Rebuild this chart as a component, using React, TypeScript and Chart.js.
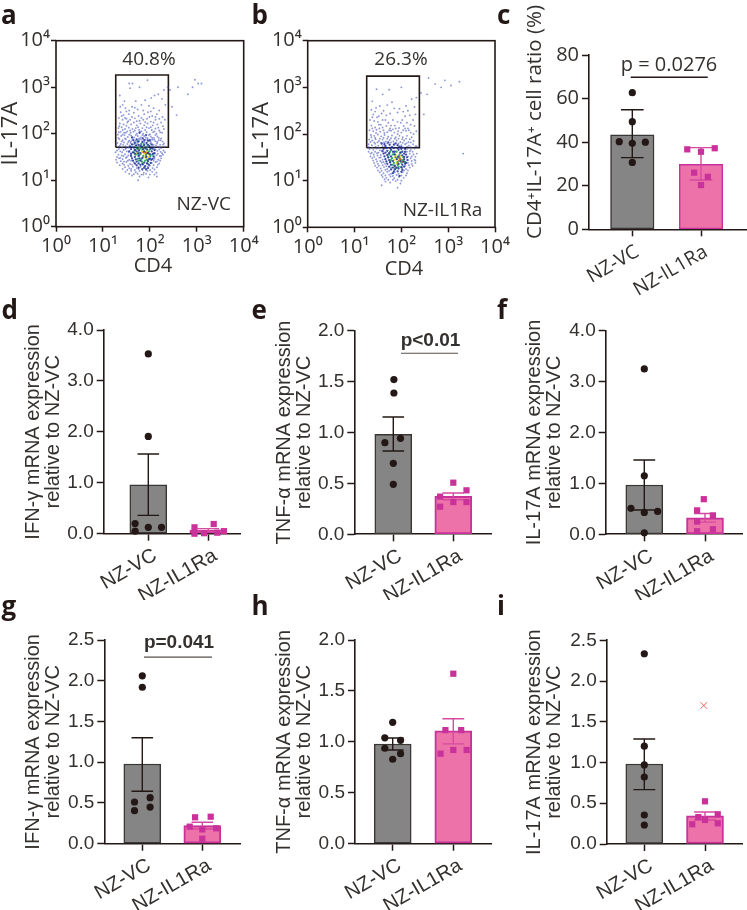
import React, { useEffect, useRef } from 'react';
import { Chart, registerables } from 'chart.js';
Chart.register(...registerables);

// ---------- flow cytometry readings (log10 CD4, log10 IL-17A) ----------
const aBlue = [[2.96,3.16],[3.1,3.08],[3.03,3.08],[2.91,3.0],[2.81,2.85],[2.6,3.0],[2.43,2.94],[2.47,2.58],[2.57,2.4],[1.56,3.08],[1.63,3.08],[1.78,3.0],[1.95,3.15],[1.58,2.98],[2.38,3.0],[2.3,2.94],[1.36,2.82],[2.18,2.85],[2.1,2.82],[2.03,2.77],[1.9,2.72],[1.7,2.7],[2.26,2.75],[1.42,2.62],[1.48,2.55],[1.5,2.48],[1.62,2.58],[1.74,2.52],[1.82,2.62],[1.98,2.6],[2.08,2.55],[2.2,2.5],[2.33,2.62],[1.38,2.46],[1.44,2.4],[1.55,2.42],[1.66,2.45],[1.76,2.38],[1.88,2.42],[1.96,2.46],[2.05,2.38],[2.15,2.42],[2.27,2.36],[1.34,2.34],[1.42,2.3],[1.5,2.32],[1.58,2.3],[1.68,2.33],[1.78,2.28],[1.86,2.3],[1.94,2.32],[2.02,2.26],[2.12,2.3],[2.24,2.24],[2.32,2.3],[1.36,2.22],[1.44,2.2],[1.52,2.24],[1.6,2.2],[1.66,2.24],[1.72,2.18],[1.8,2.22],[1.88,2.18],[1.95,2.22],[2.06,2.18],[2.16,2.2],[2.28,2.16],[1.33,2.12],[1.4,2.14],[1.47,2.1],[1.55,2.13],[1.63,2.1],[1.7,2.12],[1.77,2.08],[1.84,2.12],[1.9,2.08],[1.98,2.12],[2.04,2.08],[2.12,2.11],[2.2,2.07],[2.3,2.1],[1.38,2.04],[1.45,2.02],[1.52,2.05],[1.59,2.02],[1.65,2.04],[1.72,2.0],[1.79,2.04],[1.86,2.0],[1.93,2.03],[2.0,1.99],[2.07,2.03],[2.14,2.0],[2.22,2.03],[1.32,1.98],[1.39,1.95],[1.46,1.97],[1.53,1.93],[1.6,1.96],[1.67,1.92],[1.74,1.95],[1.81,1.92],[1.88,1.95],[1.95,1.91],[2.02,1.94],[2.09,1.91],[2.16,1.94],[2.24,1.9],[1.35,1.88],[1.42,1.86],[1.49,1.88],[1.56,1.85],[1.63,1.88],[1.7,1.85],[1.77,1.87],[1.84,1.84],[1.91,1.87],[1.98,1.84],[2.05,1.87],[2.12,1.84],[2.19,1.86],[2.27,1.83],[1.31,1.8],[1.38,1.78],[1.45,1.81],[1.52,1.78],[1.59,1.8],[1.66,1.77],[1.73,1.8],[1.8,1.77],[1.87,1.79],[1.94,1.76],[2.01,1.79],[2.08,1.76],[2.15,1.79],[2.22,1.76],[2.3,1.79],[1.34,1.72],[1.41,1.7],[1.48,1.73],[1.55,1.7],[2.1,1.7],[2.17,1.72],[2.24,1.69],[2.32,1.72],[1.3,1.64],[1.37,1.62],[1.44,1.65],[1.51,1.62],[2.16,1.63],[2.23,1.61],[2.29,1.64],[1.33,1.55],[1.4,1.53],[1.47,1.56],[1.54,1.53],[2.14,1.54],[2.21,1.52],[2.28,1.55],[1.34,1.47],[1.42,1.45],[1.49,1.48],[1.56,1.44],[2.1,1.46],[2.18,1.44],[2.24,1.47],[1.3,1.38],[1.42,1.36],[1.5,1.39],[1.58,1.35],[1.66,1.38],[2.04,1.37],[2.12,1.39],[2.2,1.36],[1.47,1.28],[1.56,1.26],[1.64,1.29],[1.72,1.26],[1.8,1.29],[1.88,1.26],[1.96,1.29],[2.06,1.26],[2.15,1.28],[1.48,1.18],[1.6,1.2],[1.7,1.17],[1.78,1.2],[1.87,1.16],[1.95,1.2],[2.05,1.18],[2.14,1.16],[1.62,1.1],[1.78,1.08],[1.86,1.12],[1.97,1.06],[2.15,1.08],[1.75,1.0]];
const aBlueMore = [[1.37,2.58],[1.46,2.7],[1.56,2.5],[1.68,2.56],[1.86,2.5],[2.02,2.48],[2.12,2.36],[1.4,2.38],[1.47,2.34],[1.54,2.27],[1.62,2.36],[1.72,2.27],[1.82,2.34],[1.9,2.25],[1.99,2.36],[2.08,2.24],[2.2,2.32],[1.35,2.16],[1.42,2.08],[1.5,2.17],[1.58,2.07],[1.68,2.07],[1.75,2.14],[1.82,2.05],[1.93,2.14],[2.02,2.14],[2.1,2.05],[2.18,2.13],[2.26,2.02],[1.34,2.03],[1.42,1.98],[1.49,2.02],[1.56,1.98],[1.63,1.92],[1.7,1.97],[1.77,1.9],[1.84,1.97],[1.91,1.92],[1.98,1.97],[2.05,1.91],[2.12,1.97],[2.19,1.91],[1.33,1.91],[1.4,1.83],[1.47,1.9],[1.54,1.82],[1.6,1.84],[1.67,1.82],[1.74,1.83],[1.81,1.88],[1.88,1.82],[1.95,1.88],[2.02,1.82],[2.09,1.87],[2.16,1.82],[2.23,1.86],[1.28,1.75],[1.36,1.74],[1.43,1.76],[1.5,1.69],[1.57,1.75],[1.63,1.72],[2.06,1.73],[2.13,1.75],[2.2,1.71],[2.28,1.76],[1.27,1.6],[1.34,1.67],[1.41,1.6],[1.48,1.67],[1.55,1.6],[2.12,1.66],[2.2,1.66],[2.26,1.58],[2.32,1.6],[1.3,1.5],[1.37,1.48],[1.44,1.52],[1.51,1.5],[1.6,1.56],[2.1,1.5],[2.17,1.57],[2.24,1.52],[1.28,1.44],[1.38,1.41],[1.45,1.4],[1.53,1.42],[1.6,1.42],[2.08,1.42],[2.15,1.4],[2.22,1.42],[1.36,1.32],[1.45,1.33],[1.54,1.31],[1.62,1.33],[1.7,1.34],[2.0,1.31],[2.08,1.32],[2.17,1.33],[1.42,1.24],[1.52,1.22],[1.6,1.24],[1.68,1.22],[1.76,1.24],[1.84,1.22],[1.92,1.24],[2.01,1.22],[2.1,1.23],[1.56,1.14],[1.66,1.13],[1.74,1.14],[1.82,1.12],[1.92,1.14],[2.0,1.12],[2.1,1.12]];
const aNavy = [[1.62,1.92],[1.72,1.88],[1.78,2.02],[1.85,1.9],[1.92,1.97],[1.68,1.8],[1.76,1.76],[1.84,1.82],[1.93,1.8],[2.0,1.86],[1.58,1.72],[1.66,1.7],[1.74,1.68],[1.83,1.72],[1.91,1.7],[1.99,1.73],[2.06,1.68],[1.56,1.62],[1.64,1.6],[1.72,1.62],[1.8,1.58],[1.88,1.62],[1.96,1.58],[2.04,1.62],[2.1,1.58],[1.6,1.52],[1.68,1.5],[1.76,1.52],[1.84,1.48],[1.92,1.5],[2.0,1.47],[2.08,1.51],[1.64,1.42],[1.72,1.4],[1.8,1.42],[1.88,1.38],[1.96,1.41],[2.03,1.44],[1.72,1.32],[1.8,1.33],[1.9,1.3],[1.98,1.33],[1.84,1.24],[1.92,1.23],[1.65,1.86],[1.76,1.83],[1.88,1.86],[1.96,1.85],[1.62,1.77],[1.71,1.75],[1.8,1.74],[1.88,1.76],[1.96,1.76],[2.04,1.77],[1.6,1.67],[1.68,1.65],[1.77,1.64],[1.86,1.67],[1.94,1.66],[2.02,1.68],[2.1,1.65],[1.6,1.57],[1.68,1.57],[1.75,1.57],[2.0,1.56],[2.07,1.57],[1.62,1.47],[1.7,1.45],[1.78,1.47],[1.98,1.45],[2.06,1.46],[1.68,1.36],[1.76,1.36],[1.85,1.34],[1.94,1.36],[2.02,1.37],[1.76,1.27],[1.88,1.27],[1.96,1.26]];
const aGreen = [[1.74,1.84],[1.82,1.78],[1.7,1.74],[1.78,1.7],[1.87,1.74],[1.95,1.72],[1.68,1.64],[1.76,1.6],[1.84,1.66],[1.92,1.55],[2.0,1.66],[2.05,1.55],[1.7,1.55],[1.78,1.54],[1.86,1.52],[1.94,1.44],[2.01,1.52],[1.74,1.46],[1.82,1.45],[1.9,1.42],[1.84,1.36],[1.95,1.36],[1.8,1.68],[1.72,1.68],[1.9,1.68],[1.98,1.62],[1.66,1.6],[1.83,1.4],[1.76,1.42]];
const aYellow = [[1.83,1.62],[1.88,1.57],[1.94,1.62],[1.98,1.56],[1.8,1.56],[1.87,1.49],[1.96,1.5],[1.77,1.66],[1.92,1.47],[1.86,1.68],[1.73,1.58]];
const aRed = [[1.9,1.6],[1.93,1.58],[1.86,1.6],[1.92,1.54],[1.97,1.6]];

const bBlue = [[2.58,3.2],[2.93,3.15],[2.72,3.07],[3.06,3.04],[3.24,3.12],[2.85,3.0],[2.55,2.85],[2.42,2.88],[2.48,2.42],[3.32,1.58],[1.47,2.96],[1.74,2.95],[2.0,3.0],[1.6,2.85],[2.22,2.75],[2.32,2.78],[1.38,2.7],[1.7,2.62],[1.8,2.68],[1.85,2.55],[2.28,2.58],[1.36,2.52],[1.54,2.6],[2.1,2.6],[1.4,2.42],[1.48,2.36],[1.58,2.44],[1.68,2.4],[1.92,2.46],[2.04,2.48],[2.18,2.4],[2.3,2.42],[1.33,2.3],[1.42,2.28],[1.5,2.26],[1.6,2.3],[1.72,2.24],[1.82,2.3],[1.92,2.26],[2.02,2.3],[2.12,2.24],[2.25,2.3],[1.36,2.18],[1.44,2.14],[1.52,2.2],[1.6,2.14],[1.68,2.17],[1.76,2.12],[1.86,2.18],[1.95,2.13],[2.05,2.17],[2.14,2.12],[2.28,2.17],[1.32,2.08],[1.4,2.06],[1.47,2.09],[1.55,2.05],[1.62,2.08],[1.7,2.04],[1.78,2.07],[1.85,2.03],[1.93,2.06],[2.0,2.03],[2.1,2.07],[2.2,2.03],[2.32,2.06],[1.35,1.98],[1.42,1.96],[1.5,1.99],[1.57,1.95],[1.64,1.98],[1.72,1.94],[1.8,1.97],[1.88,1.93],[1.96,1.96],[2.03,1.93],[2.12,1.96],[2.22,1.93],[1.31,1.88],[1.38,1.86],[1.45,1.89],[1.52,1.85],[1.6,1.88],[1.67,1.84],[1.75,1.87],[1.83,1.84],[1.9,1.86],[1.98,1.83],[2.06,1.86],[2.15,1.83],[2.26,1.85],[1.3,1.78],[1.37,1.76],[1.44,1.79],[1.51,1.75],[1.58,1.78],[1.66,1.75],[2.0,1.76],[2.08,1.78],[2.16,1.75],[2.25,1.78],[2.33,1.74],[1.32,1.68],[1.4,1.66],[1.47,1.69],[1.54,1.65],[2.12,1.68],[2.2,1.66],[2.28,1.69],[1.34,1.58],[1.41,1.56],[1.48,1.59],[1.56,1.55],[2.18,1.58],[2.26,1.56],[2.33,1.58],[1.38,1.48],[1.46,1.46],[1.53,1.49],[1.6,1.45],[2.2,1.48],[2.28,1.45],[1.42,1.38],[1.5,1.36],[1.58,1.39],[1.65,1.36],[2.14,1.38],[2.22,1.36],[2.3,1.38],[1.48,1.28],[1.56,1.26],[1.63,1.29],[1.7,1.25],[1.78,1.28],[2.02,1.27],[2.1,1.25],[2.18,1.28],[1.54,1.18],[1.62,1.16],[1.7,1.19],[1.78,1.15],[1.86,1.18],[1.94,1.15],[2.03,1.18],[2.12,1.16],[1.6,1.08],[1.68,1.06],[1.77,1.09],[1.85,1.05],[1.95,1.08],[2.05,1.06],[1.66,0.98],[1.76,0.96],[1.88,0.99],[1.98,0.94],[1.58,0.9],[1.92,0.85]];
const bBlueMore = [[1.46,2.56],[1.62,2.5],[1.96,2.54],[2.14,2.5],[1.44,2.48],[1.52,2.38],[1.76,2.44],[2.08,2.38],[1.38,2.36],[1.56,2.2],[1.66,2.3],[1.78,2.18],[1.88,2.12],[1.99,2.24],[2.08,2.12],[2.2,2.2],[1.38,2.12],[1.46,2.02],[1.53,2.12],[1.64,2.02],[1.74,2.08],[1.82,2.1],[1.92,2.0],[2.04,2.08],[2.16,2.08],[2.26,2.0],[1.36,1.93],[1.44,1.92],[1.54,1.9],[1.62,1.92],[1.7,1.9],[1.78,1.91],[1.86,1.9],[1.94,1.9],[2.02,1.89],[2.1,1.9],[2.18,1.89],[1.34,1.83],[1.42,1.82],[1.49,1.82],[1.56,1.81],[1.63,1.82],[1.7,1.8],[1.78,1.82],[1.86,1.79],[1.94,1.8],[2.03,1.81],[2.11,1.8],[2.2,1.82],[1.3,1.72],[1.38,1.71],[1.45,1.73],[1.52,1.7],[1.6,1.74],[2.04,1.71],[2.12,1.73],[2.2,1.72],[2.3,1.74],[1.3,1.62],[1.37,1.6],[1.44,1.62],[1.51,1.6],[1.58,1.64],[2.12,1.62],[2.18,1.63],[2.24,1.62],[1.34,1.52],[1.42,1.51],[1.49,1.54],[1.56,1.5],[2.14,1.52],[2.22,1.52],[2.3,1.51],[1.4,1.43],[1.48,1.41],[1.55,1.42],[1.62,1.4],[2.14,1.44],[2.22,1.42],[2.3,1.43],[1.44,1.32],[1.52,1.32],[1.6,1.33],[1.68,1.31],[2.08,1.32],[2.16,1.33],[2.24,1.32],[1.5,1.22],[1.58,1.21],[1.66,1.23],[1.74,1.21],[2.06,1.22],[2.14,1.22],[1.58,1.12],[1.66,1.11],[1.74,1.13],[1.82,1.1],[1.9,1.12],[2.0,1.11],[2.1,1.11],[1.64,1.03],[1.72,1.02],[1.82,1.02],[1.92,1.02],[2.0,1.0]];
const bNavy = [[1.58,1.8],[1.66,1.74],[1.72,1.82],[1.8,1.72],[1.88,1.8],[1.96,1.73],[1.62,1.68],[1.7,1.64],[1.78,1.66],[1.86,1.62],[1.94,1.66],[2.02,1.62],[2.08,1.68],[1.62,1.58],[1.7,1.55],[1.78,1.52],[1.86,1.56],[1.94,1.52],[2.02,1.54],[2.1,1.56],[1.66,1.46],[1.74,1.44],[1.82,1.42],[1.9,1.46],[1.98,1.42],[2.06,1.46],[2.13,1.44],[1.7,1.36],[1.78,1.34],[1.86,1.32],[1.94,1.36],[2.02,1.34],[2.08,1.36],[1.78,1.24],[1.86,1.24],[1.94,1.26],[2.02,1.23],[1.82,1.16],[1.96,1.1],[1.64,1.78],[1.75,1.77],[1.84,1.77],[1.92,1.76],[2.0,1.72],[1.68,1.7],[1.76,1.7],[1.84,1.7],[1.92,1.7],[2.0,1.68],[2.08,1.62],[1.6,1.63],[1.66,1.6],[1.74,1.59],[1.82,1.62],[1.98,1.6],[2.06,1.58],[1.64,1.52],[1.72,1.5],[2.06,1.51],[2.12,1.5],[1.68,1.41],[1.76,1.39],[2.1,1.38],[2.05,1.41],[1.74,1.3],[1.82,1.28],[1.9,1.28],[2.0,1.29],[2.06,1.3],[1.84,1.2],[1.92,1.2],[2.0,1.19]];
const bGreen = [[1.76,1.62],[1.82,1.56],[1.9,1.62],[1.98,1.6],[1.72,1.5],[1.8,1.48],[1.88,1.5],[1.96,1.48],[2.04,1.5],[1.76,1.4],[1.84,1.38],[1.92,1.4],[2.0,1.38],[2.08,1.4],[1.86,1.3],[1.94,1.3],[2.0,1.28],[1.84,1.58],[1.92,1.34],[1.74,1.56],[1.78,1.44],[2.02,1.44],[1.96,1.56],[1.88,1.26],[1.82,1.34]];
const bYellow = [[1.86,1.5],[1.92,1.46],[1.98,1.52],[1.84,1.44],[1.9,1.38],[1.97,1.42],[2.03,1.44],[1.88,1.55],[1.94,1.35]];
const bRed = [[1.92,1.5],[1.98,1.46],[1.95,1.42],[2.02,1.4]];
const aGate = [[1.273, 1.708], [2.395, 1.708], [2.395, 3.262], [1.273, 3.262], [1.273, 1.708]];
const bGate = [[1.26, 1.706], [2.385, 1.706], [2.385, 3.24], [1.26, 3.24], [1.26, 1.706]];
const powers = [1, 10, 100, 1000, 10000];
const powerLabels = ['10\u2070', '10\u00B9', '10\u00B2', '10\u00B3', '10\u2074'];

// ---------- bar panels ----------
const groupNames = ['NZ-VC', 'NZ-IL1Ra'];
const cMeans = [43.4, 29.8];
const cHigh = [54.9, 37.5];
const cLow = [32.9, 22.6];
const cVc = [[1, 62.7], [1, 49.4], [0.81, 40.2], [1, 39.5], [1.19, 40], [1, 30.7]];
const cRa = [[1.8, 36.7], [2, 35.6], [2.2, 37.2], [1.9, 26], [2.1, 24.1], [2, 20.3]];
const dMeans = [0.96, 0.07];
const dHigh = [1.565, 0.1];
const dLow = [0.36, 0.04];
const dVc = [[1, 3.53], [1, 1.91], [0.78, 0.2], [0.78, 0.05], [1, 0.125], [1.22, 0.125]];
const dRa = [[1.77, 0.125], [2.09, 0.19], [1.77, 0], [1.93, 0.01], [2.15, 0.02], [2.26, 0.05]];
const eMeans = [0.982, 0.373];
const eHigh = [1.152, 0.406];
const eLow = [0.818, 0.34];
const eVc = [[1.01, 1.52], [1.01, 1.388], [0.86, 0.9], [1.12, 0.943], [1, 0.697], [1, 0.491]];
const eRa = [[2, 0.507], [2.22, 0.432], [1.78, 0.37], [2, 0.317], [2.22, 0.317], [1.78, 0.271]];
const fMeans = [0.969, 0.326];
const fHigh = [1.46, 0.41];
const fLow = [0.477, 0.24];
const fVc = [[1, 3.25], [1, 1.15], [0.78, 0.51], [1.22, 0.45], [1, 0.43], [1, 0.03]];
const fRa = [[1.98, 0.69], [1.87, 0.47], [2.13, 0.37], [1.87, 0.25], [1.87, 0.06], [2.13, 0.1]];
const gMeans = [0.978, 0.221];
const gHigh = [1.3, 0.263];
const gLow = [0.643, 0.18];
const gVc = [[1, 2.06], [1, 1.92], [0.87, 0.512], [1.13, 0.565], [0.87, 0.405], [1.13, 0.45]];
const gRa = [[1.88, 0.324], [2.14, 0.331], [1.79, 0.209], [2.23, 0.189], [2, 0.175], [2, 0.061]];
const hMeans = [0.979, 1.107];
const hHigh = [1.038, 1.227];
const hLow = [0.92, 0.98];
const hVc = [[1, 1.192], [0.87, 1.04], [1.13, 1.015], [0.87, 0.937], [1.13, 0.884], [1, 0.829]];
const hRa = [[2, 1.669], [1.87, 1.115], [2.13, 1.115], [1.79, 0.884], [2, 0.92], [2.22, 0.92]];
const iMeans = [0.982, 0.347];
const iHigh = [1.289, 0.393];
const iLow = [0.667, 0.295];
const iVc = [[1, 2.335], [1, 1.2], [1, 0.97], [1, 0.822], [1, 0.356], [1, 0.233]];
const iRa = [[2, 0.524], [2.21, 0.365], [1.79, 0.242], [2, 0.295], [2.21, 0.254], [1.89, 0.33]];
const iExcluded = [[1.98, 1.7]];

const DARK = '#231815';
const TEXT = '#33302e';
const GREY = '#858585';
const GREY_EDGE = '#3a3634';
const PINK = '#ec72a9';
const MAGENTA = '#c9329a';
const PINK_LINE = '#d64a9f';
const ARIAL = '"Liberation Sans", Arial, sans-serif';
const MYRIAD = '"Open Sans", "Noto Sans", sans-serif';

type Note = { text: string; x: number; y: number; font: string; rot?: number; color?: string };
type Box = { x: number; y: number; w: number; h: number };

const extras = {
  id: 'extras',
  afterDraw(chart: any, _a: any, opts: any) {
    const { ctx, chartArea } = chart;
    if (opts.frame) {
      ctx.save();
      ctx.strokeStyle = DARK;
      ctx.lineWidth = 1.6;
      ctx.strokeRect(chartArea.left, chartArea.top, chartArea.right - chartArea.left, chartArea.bottom - chartArea.top);
      ctx.restore();
    }
    (opts.notes || []).forEach((n: Note) => {
      ctx.save();
      ctx.translate(n.x - opts.box.x, n.y - opts.box.y);
      if (n.rot) ctx.rotate(n.rot);
      ctx.font = n.font;
      ctx.fillStyle = n.color || TEXT;
      ctx.textAlign = 'center';
      ctx.textBaseline = 'middle';
      ctx.fillText(n.text, 0, 0);
      ctx.restore();
    });
  },
};

const pts = (list: number[][]) => list.map(([x, y]) => ({ x, y }));
const logPts = (list: number[][]) => list.map(([x, y]) => ({ x: 10 ** x, y: 10 ** y }));

function errorLines(x: number, hi: number, lo: number, cap: number) {
  return [
    { x, y: hi }, { x, y: lo }, { x: null, y: null },
    { x: x - cap, y: hi }, { x: x + cap, y: hi }, { x: null, y: null },
    { x: x - cap, y: lo }, { x: x + cap, y: lo },
  ];
}

function flowConfig(p: any) {
  const dots = (data: number[][], color: string, radius: number) => ({
    data: logPts(data), pointBackgroundColor: color, pointBorderWidth: 0, pointRadius: radius, showLine: false, clip: false,
  });
  const { box, plot } = p;
  const ticks = { color: TEXT, font: { family: MYRIAD, size: 20 }, autoSkip: false, maxRotation: 0, minRotation: 0,
    callback: (v: number) => powerLabels[powers.indexOf(v)] };
  const setTicks = (s: any) => { s.ticks = powers.map((value) => ({ value })); };
  const grid = { drawOnChartArea: false, drawTicks: true, tickLength: 5, tickWidth: 1.5, tickColor: DARK };
  return {
    type: 'scatter',
    data: {
      datasets: [
        dots(p.blue, 'rgba(72,88,190,0.62)', 0.95),
        dots(p.navy, 'rgba(25,45,150,0.85)', 1.15),
        dots(p.green, '#35b06a', 1.15),
        dots(p.yellow, '#e8d52e', 1.15),
        dots(p.red, '#e2452a', 1.15),
        { data: logPts(p.gate), showLine: true, borderColor: DARK, borderWidth: 1.6, pointRadius: 0, clip: false },
      ],
    },
    options: {
      responsive: false, animation: false,
      layout: { autoPadding: false, padding: { top: plot.t - box.y, right: box.x + box.w - plot.r, left: 0, bottom: 0 } },
      plugins: { legend: { display: false }, tooltip: { enabled: false }, extras: { frame: true, box, notes: p.notes } },
      scales: {
        x: { type: 'logarithmic', min: 1, max: 10000, afterBuildTicks: setTicks, ticks: { ...ticks, padding: 3 }, grid, border: { display: false },
          afterFit: (s: any) => { s.height = box.y + box.h - plot.b; } },
        y: { type: 'logarithmic', min: 1, max: 10000, afterBuildTicks: setTicks, ticks: { ...ticks, padding: 1 }, grid, border: { display: false },
          title: { display: true, text: 'IL-17A', color: TEXT, font: { family: MYRIAD, size: 22, lineHeight: 1.1 }, padding: { top: p.titleX - box.x - 12, bottom: 0 } },
          afterFit: (s: any) => { s.width = plot.l - box.x; } },
      },
    },
  };
}

function barConfig(p: any) {
  const { box, plot, t1, t2 } = p;
  const unit = t2 - t1;
  const xMin = 1 - (t1 - plot.l) / unit;
  const xMax = 2 + (plot.r - t2) / unit;
  const cap = p.cap ?? 0.18;
  const fam = p.family ?? ARIAL;
  const grid = { drawOnChartArea: false, drawTicks: true, tickLength: 7, tickWidth: 1.5, tickColor: DARK };
  const datasets: any[] = [
    { type: 'bar', order: 5, data: [{ x: 1, y: p.means[0] }, { x: 2, y: p.means[1] }], barThickness: p.barW,
      backgroundColor: [GREY, PINK], borderColor: [GREY_EDGE, MAGENTA], borderWidth: [1.5, p.pinkEdge ?? 2], borderSkipped: false, grouped: false },
    { type: 'scatter', order: 4, data: errorLines(1, p.high[0], p.low[0], cap), showLine: true, borderColor: DARK, borderWidth: 1.4, pointRadius: 0, clip: false },
    { type: 'scatter', order: 3, data: errorLines(2, p.high[1], p.low[1], cap), showLine: true, borderColor: PINK_LINE, borderWidth: 1.4, pointRadius: 0, clip: false },
    { type: 'scatter', order: 2, data: pts(p.vc), pointStyle: 'circle', pointRadius: 3.6, pointBackgroundColor: DARK, pointBorderWidth: 0, showLine: false, clip: false },
    { type: 'scatter', order: 1, data: pts(p.ra), pointStyle: 'rect', pointRadius: 4.4, pointBackgroundColor: MAGENTA, pointBorderWidth: 0, showLine: false, clip: false },
  ];
  if (p.sig) {
    datasets.push({ type: 'scatter', order: 0, data: [{ x: 1 + (p.sig.x1 - t1) / unit, y: p.sig.y }, { x: 1 + (p.sig.x2 - t1) / unit, y: p.sig.y }],
      showLine: true, borderColor: p.sig.color, borderWidth: p.sig.width, pointRadius: 0, clip: false });
  }
  if (p.excluded) {
    datasets.push({ type: 'scatter', order: 0, data: pts(p.excluded), pointStyle: 'crossRot', pointRadius: 4.6, pointBorderColor: '#e8665f', pointBorderWidth: 1, showLine: false, clip: false });
  }
  return {
    type: 'bar',
    data: { datasets },
    options: {
      responsive: false, animation: false,
      layout: { autoPadding: false, padding: { top: plot.t - box.y, right: box.x + box.w - plot.r, left: 0, bottom: 0 } },
      plugins: { legend: { display: false }, tooltip: { enabled: false }, extras: { box, notes: p.notes } },
      scales: {
        x: { type: 'linear', offset: false, min: xMin, max: xMax,
          afterBuildTicks: (s: any) => { s.ticks = [{ value: 1 }, { value: 2 }]; },
          ticks: { autoSkip: false, minRotation: 30, maxRotation: 30, padding: p.xPad ?? 3, labelOffset: p.xShift ?? 7, color: TEXT, font: { family: fam, size: p.xSize ?? 20 },
            callback: (v: number) => groupNames[v - 1] },
          grid: { ...grid, offset: false }, border: { display: true, color: DARK, width: 1.6 },
          afterFit: (s: any) => { s.height = box.y + box.h - plot.b; } },
        y: { type: 'linear', min: 0, max: p.max,
          ticks: { stepSize: p.step, padding: 3, color: TEXT, font: { family: fam, size: p.ySize ?? 19 },
            callback: (v: number) => v.toFixed(p.digits ?? 1) },
          grid, border: { display: true, color: DARK, width: 1.6 },
          title: p.title ? { display: true, text: p.title, color: TEXT, font: { family: fam, size: 20, lineHeight: 1 }, padding: { top: p.titleX - box.x - 10 + 1.5, bottom: 0 } } : { display: false },
          afterFit: (s: any) => { s.width = plot.l - box.x; } },
      },
    },
  };
}

const rel = 'relative to NZ-VC';
const boldP = `bold 19px ${ARIAL}`;
const configs: { box: Box; make: (b: Box) => any }[] = [
  (() => {
    const box = { x: 0, y: 22, w: 262, h: 262 };
    return { box, make: () => flowConfig({ box, plot: { l: 56, r: 243.7, t: 40.7, b: 226.7 }, titleX: 10.7, blue: [...aBlue, ...aBlueMore], navy: aNavy, green: aGreen, yellow: aYellow, red: aRed, gate: aGate,
      notes: [
        { text: '40.8%', x: 149, y: 59.5, font: `19px ${MYRIAD}` },
        { text: 'NZ-VC', x: 203.7, y: 205, font: `19px ${MYRIAD}` },
        { text: 'CD4', x: 153, y: 266, font: `20px ${MYRIAD}` },
      ] }) };
  })(),
  (() => {
    const box = { x: 251, y: 22, w: 262, h: 262 };
    return { box, make: () => flowConfig({ box, plot: { l: 307.7, r: 495, t: 40.7, b: 227.3 }, titleX: 261.7, blue: [...bBlue, ...bBlueMore], navy: bNavy, green: bGreen, yellow: bYellow, red: bRed, gate: bGate,
      notes: [
        { text: '26.3%', x: 401, y: 59.5, font: `19px ${MYRIAD}` },
        { text: 'NZ-IL1Ra', x: 442.5, y: 211, font: `19px ${MYRIAD}` },
        { text: 'CD4', x: 404, y: 269, font: `20px ${MYRIAD}` },
      ] }) };
  })(),
  (() => {
    const box = { x: 500, y: 0, w: 247, h: 298 };
    return { box, make: () => barConfig({ box, plot: { l: 589, r: 747, t: 55, b: 229.3 }, t1: 632.3, t2: 701, max: 80, step: 20, digits: 0, family: MYRIAD, xSize: 19.5, ySize: 20, xPad: 4, xShift: 5,
      means: cMeans, high: cHigh, low: cLow, vc: cVc, ra: cRa, barW: 43.5, cap: 0.165, pinkEdge: 1.5,
      sig: { x1: 630.7, x2: 707.7, y: 69.8, color: DARK, width: 1.5 },
      notes: [
        { text: 'p = 0.0276', x: 669, y: 65.5, font: `20px ${MYRIAD}` },
        { text: 'CD4\u207AIL-17A\u207A cell ratio (%)', x: 535, y: 122, rot: -Math.PI / 2, font: `20.5px ${MYRIAD}` },
      ] }) };
  })(),
  (() => {
    const box = { x: 0, y: 310, w: 245, h: 290 };
    return { box, make: () => barConfig({ box, plot: { l: 103.7, r: 240, t: 330, b: 533.7 }, t1: 148.3, t2: 208.3, max: 4, step: 1, title: ['IFN-\u03B3 mRNA expression', rel], titleX: 31.7,
      means: dMeans, high: dHigh, low: dLow, vc: dVc, ra: dRa, barW: 37 }) };
  })(),
  (() => {
    const box = { x: 262, y: 310, w: 232, h: 290 };
    return { box, make: () => barConfig({ box, plot: { l: 354.3, r: 491, t: 330.7, b: 534.3 }, t1: 393.3, t2: 453.3, max: 2, step: 0.5, title: ['TNF-\u03B1 mRNA expression', rel], titleX: 283,
      means: eMeans, high: eHigh, low: eLow, vc: eVc, ra: eRa, barW: 37,
      sig: { x1: 401, x2: 458, y: 1.778, color: '#55504e', width: 1.1 },
      notes: [{ text: 'p<0.01', x: 430.5, y: 340.7, font: boldP }] }) };
  })(),
  (() => {
    const box = { x: 510, y: 310, w: 237, h: 290 };
    return { box, make: () => barConfig({ box, plot: { l: 605.7, r: 742.3, t: 330.7, b: 534.3 }, t1: 644.3, t2: 705, max: 4, step: 1, title: ['IL-17A mRNA expression', rel], titleX: 533,
      means: fMeans, high: fHigh, low: fLow, vc: fVc, ra: fRa, barW: 37 }) };
  })(),
  (() => {
    const box = { x: 0, y: 620, w: 245, h: 290 };
    return { box, make: () => barConfig({ box, plot: { l: 104.3, r: 240, t: 640, b: 843.7 }, t1: 142.3, t2: 202.3, max: 2.5, step: 0.5, title: ['IFN-\u03B3 mRNA expression', rel], titleX: 31.7,
      means: gMeans, high: gHigh, low: gLow, vc: gVc, ra: gRa, barW: 37,
      sig: { x1: 144, x2: 212, y: 2.29, color: '#55504e', width: 1.1 },
      notes: [{ text: 'p=0.041', x: 179, y: 642.7, font: boldP }] }) };
  })(),
  (() => {
    const box = { x: 262, y: 620, w: 232, h: 290 };
    return { box, make: () => barConfig({ box, plot: { l: 355, r: 491, t: 640, b: 843.7 }, t1: 392.7, t2: 453.3, max: 2, step: 0.5, title: ['TNF-\u03B1 mRNA expression', rel], titleX: 282.7,
      means: hMeans, high: hHigh, low: hLow, vc: hVc, ra: hRa, barW: 37 }) };
  })(),
  (() => {
    const box = { x: 510, y: 620, w: 237, h: 290 };
    return { box, make: () => barConfig({ box, plot: { l: 606.7, r: 742.3, t: 640.3, b: 844 }, t1: 644.3, t2: 705, max: 2.5, step: 0.5, title: ['IL-17A mRNA expression', rel], titleX: 533.3,
      means: iMeans, high: iHigh, low: iLow, vc: iVc, ra: iRa, barW: 37, excluded: iExcluded }) };
  })(),
];

const letters = [
  ['a', 1, 23], ['b', 251.5, 23], ['c', 497, 23],
  ['d', 1.5, 318], ['e', 251.5, 318], ['f', 497, 318],
  ['g', 1.5, 613.5], ['h', 251.5, 613.5], ['i', 497, 613.5],
] as [string, number, number][];

function Panel({ box, make }: { box: Box; make: (b: Box) => any }) {
  const ref = useRef<HTMLCanvasElement>(null);
  useEffect(() => {
    const chart = new Chart(ref.current as HTMLCanvasElement, { ...make(box), plugins: [extras] });
    return () => chart.destroy();
  }, []);
  return <canvas ref={ref} width={box.w} height={box.h} style={{ position: 'absolute', left: box.x, top: box.y, width: box.w, height: box.h }} />;
}

export default function App() {
  return (
    <div style={{ position: 'absolute', left: 0, top: 0, width: 747, height: 910, overflow: 'hidden', background: '#fff' }}>
      {configs.map((c, i) => <Panel key={i} box={c.box} make={c.make} />)}
      {letters.map(([t, x, y]) => (
        <div key={t} style={{ position: 'absolute', left: x, top: y - 24, height: 30, lineHeight: '30px', fontFamily: MYRIAD, fontWeight: 700, fontSize: 26, color: DARK }}>{t}</div>
      ))}
    </div>
  );
}
